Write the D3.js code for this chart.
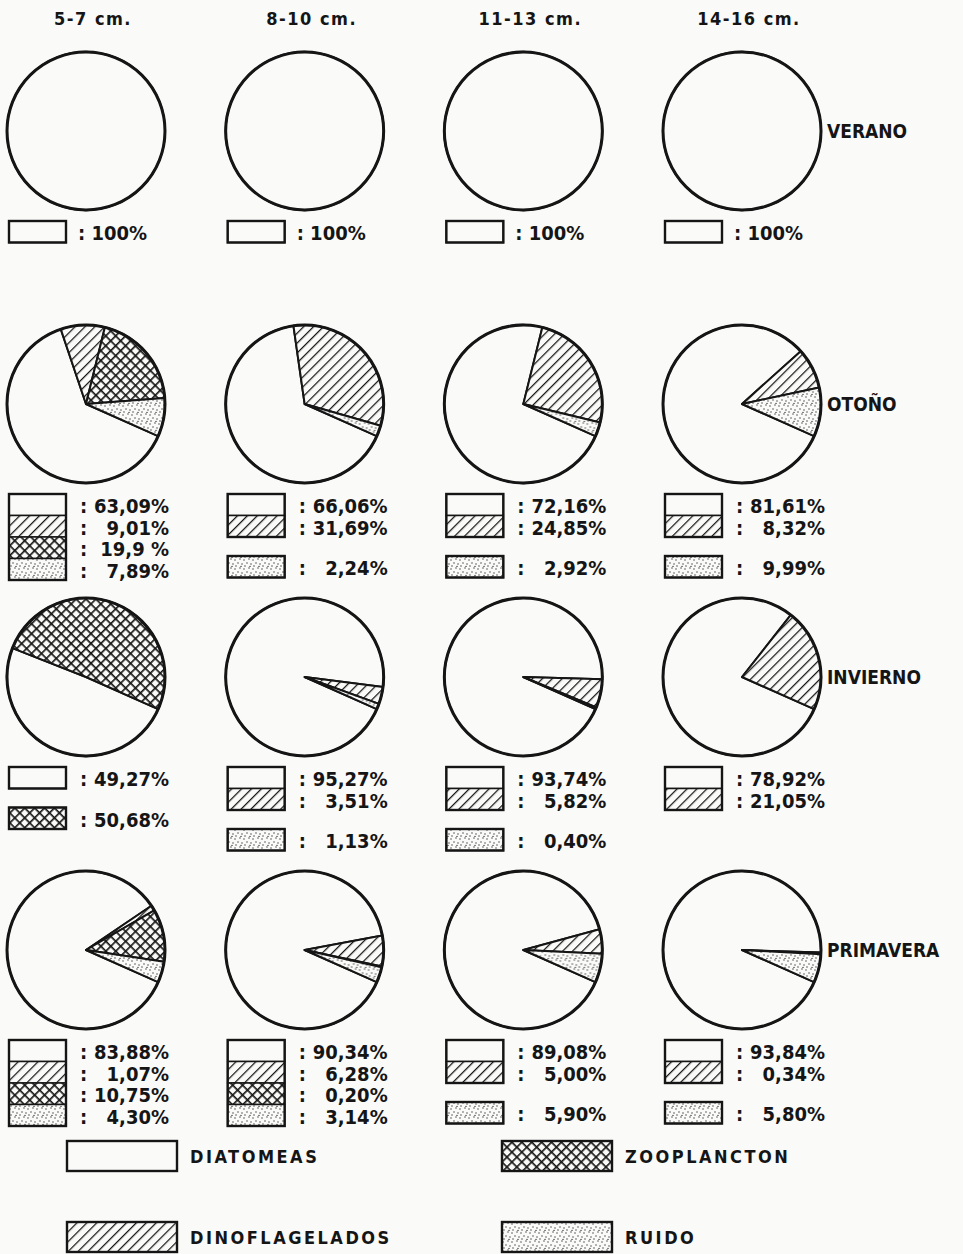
<!DOCTYPE html>
<html>
<head>
<meta charset="utf-8">
<script src="https://cdnjs.cloudflare.com/ajax/libs/d3/7.8.5/d3.min.js"></script>
<style>
  html, body { margin: 0; padding: 0; background: #fafaf8; }
  svg { display: block; }
  text { font-family: "DejaVu Sans Condensed", "DejaVu Sans", sans-serif; font-stretch: condensed; fill: #151515; }
</style>
</head>
<body>
<svg id="chart" width="963" height="1254"></svg>
<script>
const sizes = ["5-7 cm.", "8-10 cm.", "11-13 cm.", "14-16 cm."];
const seasons = ["VERANO", "OTOÑO", "INVIERNO", "PRIMAVERA"];
const categories = ["DIATOMEAS", "DINOFLAGELADOS", "ZOOPLANCTON", "RUIDO"];

// percentages as printed, one row per size class:
// [diatomeas, dinoflagelados, zooplancton, ruido]
const verano = [
  ["100", null, null, null],
  ["100", null, null, null],
  ["100", null, null, null],
  ["100", null, null, null]
];
const otono = [
  ["63,09", "9,01", "19,9 ", "7,89"],
  ["66,06", "31,69", null, "2,24"],
  ["72,16", "24,85", null, "2,92"],
  ["81,61", "8,32", null, "9,99"]
];
const invierno = [
  ["49,27", null, "50,68", null],
  ["95,27", "3,51", null, "1,13"],
  ["93,74", "5,82", null, "0,40"],
  ["78,92", "21,05", null, null]
];
const primavera = [
  ["83,88", "1,07", "10,75", "4,30"],
  ["90,34", "6,28", "0,20", "3,14"],
  ["89,08", "5,00", null, "5,90"],
  ["93,84", "0,34", null, "5,80"]
];
const table = [verano, otono, invierno, primavera];

const paper = "#fafaf8", ink = "#151515";
const svg = d3.select("#chart");
svg.append("rect").attr("width", 963).attr("height", 1254).attr("fill", paper);

// fill patterns
const defs = svg.append("defs");
function pattern(id, size, rot) {
  const p = defs.append("pattern").attr("id", id)
    .attr("patternUnits", "userSpaceOnUse")
    .attr("width", size).attr("height", size);
  if (rot) p.attr("patternTransform", `rotate(${rot})`);
  p.append("rect").attr("width", size).attr("height", size).attr("fill", paper);
  return p;
}
const dino = pattern("pat-dino", 7, 45);
dino.append("line").attr("x1", 0.5).attr("y1", 0).attr("x2", 0.5).attr("y2", 7)
  .attr("stroke", ink).attr("stroke-width", 1.5);

const zoo = pattern("pat-zoo", 7, 45);
zoo.append("line").attr("x1", 0.5).attr("y1", 0).attr("x2", 0.5).attr("y2", 7)
  .attr("stroke", ink).attr("stroke-width", 2.3);
zoo.append("line").attr("x1", 0).attr("y1", 0.5).attr("x2", 7).attr("y2", 0.5)
  .attr("stroke", ink).attr("stroke-width", 2.3);

const ruido = pattern("pat-ruido", 9, 0);
[[1, 2], [6, 1], [4, 5], [8, 6], [2, 8], [7, 8.4]].forEach(([cx, cy]) => {
  ruido.append("circle").attr("cx", cx).attr("cy", cy).attr("r", 0.7).attr("fill", "#333");
});

const fills = [paper, "url(#pat-dino)", "url(#pat-zoo)", "url(#pat-ruido)"];

const x = d3.scalePoint().domain(sizes).range([86, 742]);
const y = d3.scalePoint().domain(seasons).range([131, 950]);
const R = 79;

const startDeg = 114;
const pie = d3.pie().sort(null).value(d => d.value)
  .startAngle(startDeg * Math.PI / 180)
  .endAngle((startDeg + 360) * Math.PI / 180);
const arc = d3.arc().innerRadius(0).outerRadius(R);

const toNum = s => +s.trim().replace(",", ".");

// column headers
svg.selectAll(".size-label")
  .data(sizes)
  .enter().append("text")
  .attr("class", "size-label")
  .attr("x", d => x(d) + 7)
  .attr("y", 25)
  .attr("text-anchor", "middle")
  .attr("font-size", 18)
  .attr("font-weight", "bold")
  .attr("letter-spacing", 1.5)
  .text(d => d);

// season labels
svg.selectAll(".season-label")
  .data(seasons)
  .enter().append("text")
  .attr("class", "season-label")
  .attr("x", x(sizes[sizes.length - 1]) + R + 6)
  .attr("y", d => y(d))
  .attr("dy", "0.36em")
  .attr("font-size", 19)
  .attr("font-weight", "bold")
  .text(d => d);

const rowH = 21.5, boxW = 57;

seasons.forEach((season, si) => {
  sizes.forEach((size, ci) => {
    const row = table[si][ci];
    const cx = x(size), cy = y(season);
    const items = row.map((v, k) => ({ cat: k, label: v, value: v == null ? 0 : toNum(v) }))
      .filter(d => d.label != null);

    const g = svg.append("g").attr("transform", `translate(${cx},${cy})`);
    g.selectAll("path")
      .data(pie(items))
      .enter().append("path")
      .attr("d", arc)
      .attr("fill", d => fills[d.data.cat])
      .attr("stroke", ink)
      .attr("stroke-width", 2)
      .attr("stroke-linejoin", "round");
    g.append("circle").attr("r", R)
      .attr("fill", "none").attr("stroke", ink).attr("stroke-width", 3);

    // legend under the pie: consecutive categories stacked, a gap where one is missing
    const groups = [];
    let cur = [];
    row.forEach((v, k) => {
      if (v == null) { if (cur.length) { groups.push(cur); cur = []; } return; }
      cur.push({ cat: k, label: v });
    });
    if (cur.length) groups.push(cur);

    const bx = cx - 77, bRight = bx + boxW;
    let top = cy + 90;
    groups.forEach(grp => {
      grp.forEach((d, i) => {
        const ry = top + i * rowH;
        svg.append("rect")
          .attr("x", bx).attr("y", ry).attr("width", boxW).attr("height", rowH)
          .attr("fill", fills[d.cat]).attr("stroke", ink).attr("stroke-width", 1.5);
        if (items.length === 1) {
          svg.append("text")
            .attr("x", bRight + 12).attr("y", ry + 19)
            .attr("font-size", 20).attr("font-weight", "bold")
            .text(": " + d.label + "%");
        } else {
          svg.append("text")
            .attr("x", bRight + 14).attr("y", ry + 19)
            .attr("font-size", 20).attr("font-weight", "bold")
            .text(":");
          svg.append("text")
            .attr("x", bRight + 103).attr("y", ry + 19)
            .attr("text-anchor", "end")
            .attr("font-size", 20).attr("font-weight", "bold")
            .text(d.label + "%");
        }
      });
      svg.append("rect")
        .attr("x", bx).attr("y", top).attr("width", boxW).attr("height", grp.length * rowH)
        .attr("fill", "none").attr("stroke", ink).attr("stroke-width", 2.4);
      top += grp.length * rowH + 19;
    });
  });
});

// key at the bottom
const keyX = d3.scalePoint().domain([0, 1]).range([67, 502]);
const keyY = d3.scalePoint().domain([0, 1]).range([1141, 1222]);
const key = svg.selectAll(".key")
  .data(categories)
  .enter().append("g")
  .attr("class", "key")
  .attr("transform", (d, i) => `translate(${keyX(Math.floor(i / 2))},${keyY(i % 2)})`);
key.append("rect")
  .attr("width", 110).attr("height", 30)
  .attr("fill", (d, i) => fills[i])
  .attr("stroke", ink).attr("stroke-width", 2.4);
key.append("text")
  .attr("x", 123).attr("y", 22)
  .attr("font-size", 18).attr("font-weight", "bold")
  .attr("letter-spacing", 2.5)
  .text(d => d);
</script>
</body>
</html>
